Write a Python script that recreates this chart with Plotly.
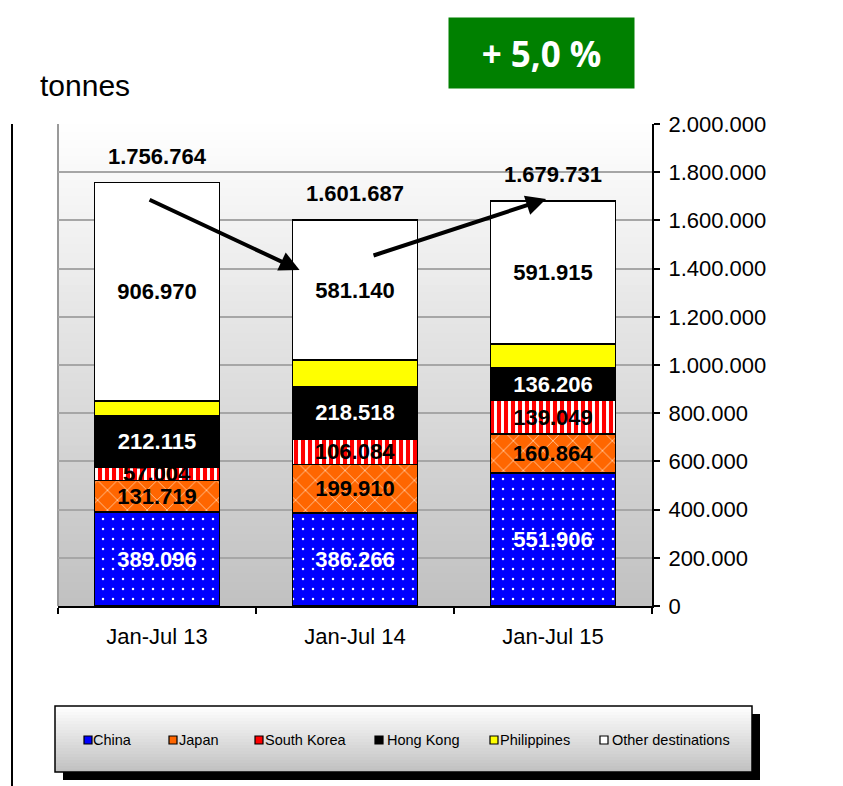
import plotly.graph_objects as go

categories = ["Jan-Jul 13", "Jan-Jul 14", "Jan-Jul 15"]
china = [389096, 386266, 551906]
japan = [131719, 199910, 160864]
south_korea = [57004, 106084, 139049]
hong_kong = [212115, 218518, 136206]
philippines = [59860, 109769, 99791]
other = [906970, 581140, 591915]
totals = [1756764, 1601687, 1679731]
y_ticks = list(range(0, 2000001, 200000))
growth_label = "+ 5,0 %"
unit_label = "tonnes"


def fmt(v):
    return f"{v:,}".replace(",", ".")


FONT = "Liberation Sans, Arial, sans-serif"

series = [
    ("China", china, "#0000FF", dict(shape=".", fgcolor="white", bgcolor="#0000FF", size=10, solidity=0.05), "white", True),
    ("Japan", japan, "#FF6600", dict(shape="x", fgcolor="#FFE2C8", bgcolor="#FF6600", size=14, solidity=0.1), "black", True),
    ("South Korea", south_korea, "#FF0000", dict(shape="|", fgcolor="white", bgcolor="#FF0000", size=7, solidity=0.42), "black", True),
    ("Hong Kong", hong_kong, "#000000", None, "white", True),
    ("Philippines", philippines, "#FFFF00", None, "black", False),
    ("Other destinations", other, "#FFFFFF", None, "black", True),
]

# plot area in pixels: x 58..652, y 124..606
PX0, PW, PY1, PH = 58, 594, 606, 482


def px(x):
    return (x - PX0) / PW


def py(y):
    return (PY1 - y) / PH


fig = go.Figure()
for name, vals, color, pattern, tcolor, show_text in series:
    marker = dict(color=color, line=dict(color="black", width=1.5))
    if pattern:
        marker["pattern"] = dict(fillmode="replace", **pattern)
    fig.add_trace(go.Bar(
        name=name, x=categories, y=vals, width=0.63,
        marker=marker,
        text=[fmt(v) for v in vals] if show_text else None,
        textposition="inside" if show_text else "none",
        insidetextanchor="middle",
        constraintext="none",
        textfont=dict(family=FONT, size=22, color=tcolor, weight="bold"),
        textangle=0,
        hoverinfo="skip",
        showlegend=False,
    ))

shapes = []
# plot-area vertical gradient (white at top -> light grey at bottom)
n = 60
for i in range(n):
    t = (i + 0.5) / n
    c = int(round(0xC0 + (0xFF - 0xC0) * t))
    shapes.append(dict(type="rect", xref="paper", yref="paper", x0=0, x1=1,
                       y0=i / n, y1=min(1, (i + 1.6) / n), fillcolor=f"rgb({c},{c},{c})",
                       line=dict(width=0), layer="below"))
# plot-area left border
shapes.append(dict(type="line", xref="paper", yref="paper", x0=0, x1=0, y0=0, y1=1,
                   line=dict(color="#9A9A9A", width=2), layer="below"))
# chart frame left line
shapes.append(dict(type="line", xref="paper", yref="paper", x0=px(12), x1=px(12), y0=py(790), y1=py(124),
                   line=dict(color="black", width=2)))

# legend box with shadow and gradient
lx0, lx1 = px(55), px(752)
ly1, ly0 = py(706), py(772)
sx, sy = 8 / PW, 8 / PH
shapes.append(dict(type="rect", xref="paper", yref="paper", x0=lx0 + sx, x1=lx1 + sx,
                   y0=ly0 - sy, y1=ly1 - sy, fillcolor="black", line=dict(width=0)))
m = 22
for i in range(m):
    t = (i + 0.5) / m
    c = int(round(0xC0 + (0xFF - 0xC0) * t))
    shapes.append(dict(type="rect", xref="paper", yref="paper", x0=lx0, x1=lx1,
                       y0=ly0 + (ly1 - ly0) * i / m, y1=ly0 + (ly1 - ly0) * min(1, (i + 1.8) / m),
                       fillcolor=f"rgb({c},{c},{c})", line=dict(width=0)))
shapes.append(dict(type="rect", xref="paper", yref="paper", x0=lx0, x1=lx1, y0=ly0, y1=ly1,
                   fillcolor="rgba(0,0,0,0)", line=dict(color="black", width=1.5)))

annotations = []
# legend entries
sym_x = [84, 169, 255, 375, 490, 600]
txt_x = [91, 177, 263, 385, 498, 610]
for (name, vals, color, pattern, tcolor, show_text), sxp, txp in zip(series, sym_x, txt_x):
    shapes.append(dict(type="rect", xref="paper", yref="paper", x0=px(sxp), x1=px(sxp + 8),
                       y0=py(744), y1=py(736), fillcolor=color, line=dict(color="black", width=1.2)))
    annotations.append(dict(x=px(txp), y=py(740), xref="paper", yref="paper", text=name,
                            showarrow=False, xanchor="left", yanchor="middle",
                            font=dict(family=FONT, size=14.5, color="black")))

for cat, tot in zip(categories, totals):
    annotations.append(dict(x=cat, y=tot, xref="x", yref="y", text=fmt(tot), showarrow=False,
                            yanchor="bottom", yshift=12,
                            font=dict(family=FONT, size=22, color="black", weight="bold")))

# trend arrows
annotations.append(dict(x=0.72, y=1394000, ax=-0.045, ay=1688800, xref="x", yref="y",
                        axref="x", ayref="y", showarrow=True, arrowhead=2, arrowsize=1,
                        arrowwidth=4, arrowcolor="black", text=""))
annotations.append(dict(x=1.965, y=1688800, ax=1.086, ay=1452300, xref="x", yref="y",
                        axref="x", ayref="y", showarrow=True, arrowhead=2, arrowsize=1,
                        arrowwidth=4, arrowcolor="black", text=""))

annotations.append(dict(x=px(541.5), y=py(53), xref="paper", yref="paper",
                        text=f"<b>{growth_label}</b>", showarrow=False, bgcolor="#008000",
                        width=185, height=70, borderpad=0, xanchor="center", yanchor="middle",
                        font=dict(family="Open Sans, Liberation Sans, sans-serif", size=35, color="white")))
annotations.append(dict(x=px(38), y=py(85), xref="paper", yref="paper",
                        text=unit_label, showarrow=False, xanchor="left", yanchor="middle",
                        font=dict(family=FONT, size=30, color="black")))

fig.update_layout(
    width=843, height=786,
    margin=dict(l=PX0, r=843 - PX0 - PW, t=PY1 - PH, b=786 - PY1),
    barmode="stack", bargap=0.37,
    paper_bgcolor="white", plot_bgcolor="rgba(0,0,0,0)",
    separators=",.",
    font=dict(family=FONT, color="black"),
    showlegend=False,
    shapes=shapes,
    annotations=annotations,
    xaxis=dict(type="category", showline=True, linecolor="black", linewidth=2,
               ticks="outside", tickson="boundaries", ticklen=6, tickcolor="black", tickwidth=2,
               showgrid=False, tickfont=dict(family=FONT, size=22, color="black"),
               ticklabelstandoff=10, range=[-0.5, 2.5]),
    yaxis=dict(side="right", range=[0, 2000000], tickvals=y_ticks, tickformat=",d",
               showline=True, linecolor="black", linewidth=2, ticks="outside", ticklen=6,
               tickcolor="black", tickwidth=2, showgrid=True, gridcolor="#A6A6A6", gridwidth=2,
               zeroline=False, tickfont=dict(family=FONT, size=22, color="black"),
               ticklabelstandoff=4),
)

fig.write_html("out.html", config={"displayModeBar": False})

# remove the default page margin so the figure sits at the window origin
with open("out.html", encoding="utf-8") as f:
    html = f.read()
html = html.replace("<body>", '<body style="margin:0">', 1)
with open("out.html", "w", encoding="utf-8") as f:
    f.write(html)
